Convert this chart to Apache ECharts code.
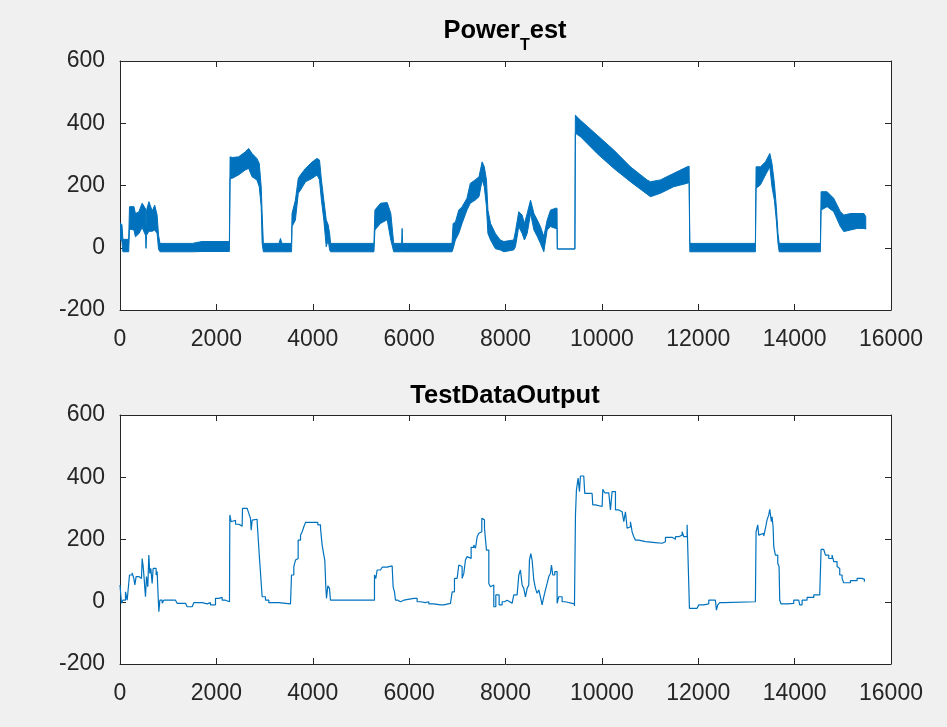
<!DOCTYPE html>
<html>
<head>
<meta charset="utf-8">
<script src="https://cdn.jsdelivr.net/npm/echarts@6/dist/echarts.min.js"></script>
<style>
html,body{margin:0;padding:0;background:#f0f0f0;}
#c{width:947px;height:727px;}
</style>
</head>
<body>
<div id="c"></div>
<script>
// ---- tick definitions ----
const xTicks = [0, 2000, 4000, 6000, 8000, 10000, 12000, 14000, 16000];
const yTicks = [-200, 0, 200, 400, 600];

// ---- titles ----
const titleTop = 'Power_Test';
const titleBottom = 'TestDataOutput';

// ---- Power_Test: noisy band, upper and lower envelope ----
const estX = [0, 40, 60, 180, 197, 290, 320, 390, 460, 530, 540, 550, 600, 670, 720, 770, 800, 830,
  1500, 1700, 2250, 2270, 2285, 2330, 2460, 2600, 2670, 2740, 2840, 2890, 2930, 2950, 2975,
  3300, 3330, 3360, 3560, 3570, 3640, 3700, 3745, 3850, 3990, 4090, 4140, 4180, 4230, 4280, 4320, 4350, 4370,
  5270, 5290, 5405, 5545, 5620, 5680, 5845, 5855, 5865, 6890, 6913, 6960, 7030, 7100, 7200, 7270, 7370, 7450,
  7515, 7560, 7605, 7635, 7690, 7790, 7890, 7965, 8170, 8206, 8275, 8345, 8393, 8450, 8520, 8590, 8660,
  8725, 8795, 8865, 8935, 9040, 9070, 9075, 9440, 9450, 9555, 9900, 10247, 10593, 10938, 11008, 11215,
  11490, 11770, 11810, 11825, 13186, 13200, 13290, 13395, 13485, 13530, 13580, 13620, 13655, 13680,
  14535, 14549, 14675, 14810, 14950, 15020, 15160, 15300, 15440, 15476];
const estHi = [78, 75, 27, 27, 132, 132, 110, 115, 143, 125, 60, 120, 148, 118, 137, 105, 40, 14,
  14, 20, 20, 20, 292, 290, 292, 308, 319, 303, 287, 271, 196, 110, 14,
  14, 30, 14, 14, 110, 153, 223, 234, 255, 276, 287, 282, 218, 153, 89, 74, 46, 14,
  14, 121, 143, 145, 110, 14, 14, 62, 14, 14, 78, 82, 121, 132, 159, 207, 218, 228,
  276, 260, 218, 121, 78, 46, 25, 20, 25, 52, 116, 105, 78, 110, 153, 110, 89,
  68, 36, 89, 121, 127, 127, -4, -4, 426, 410, 362, 314, 260, 218, 212, 218,
  239, 260, 262, 14, 14, 260, 260, 276, 303, 271, 207, 132, 46, 14,
  14, 180, 180, 159, 116, 105, 110, 110, 110, 100];
const estLo = [30, 20, -13, -13, 60, 57, 35, 45, 65, 40, -2, 40, 53, 53, 57, 46, -5, -13,
  -13, -12, -12, -12, 223, 223, 234, 250, 255, 228, 218, 196, 132, 14, -13,
  -13, -13, -13, -13, 68, 89, 175, 185, 212, 223, 234, 218, 153, 89, 3, 25, -7, -13,
  -13, 57, 78, 90, 25, -13, -13, -13, -13, -13, -3, 25, 46, 79, 121, 143, 153, 164,
  218, 196, 132, 46, 25, -3, -7, -13, -7, 3, 68, 46, 25, 46, 110, 57, 36,
  14, -13, 57, 68, 62, 62, -4, -4, 368, 357, 303, 255, 212, 172, 164, 175,
  196, 207, 210, -13, -13, 191, 202, 234, 260, 196, 153, 89, 14, -13,
  -13, 121, 132, 116, 68, 52, 57, 62, 62, 60];

// ---- TestDataOutput: line ----
const outX = [0, 10, 31, 59, 114, 149, 183, 197, 252, 287, 308, 335, 391, 446, 460, 481, 501, 515, 529, 550,
  577, 598, 619, 640, 667, 688, 723, 750, 771, 792, 806, 827, 875, 910, 1152, 1186, 1359, 1394, 1497, 1532,
  1705, 1740, 1809, 1878, 1933, 1982, 2051, 2120, 2189, 2272, 2279, 2307, 2342, 2397, 2466, 2535, 2542, 2639,
  2673, 2708, 2722, 2743, 2777, 2846, 2881, 2895, 2936, 2950, 3019, 3088, 3296, 3538, 3559, 3607, 3642, 3676,
  3697, 3746, 3780, 3815, 3850, 4057, 4105, 4161, 4195, 4230, 4250, 4271, 4285, 4313, 4347, 4368, 5163, 5198,
  5281, 5309, 5336, 5406, 5440, 5544, 5648, 5668, 5696, 5717, 5765, 5821, 5890, 6097, 6166, 6236, 6339, 6409,
  6512, 6651, 6720, 6858, 6893, 6941, 6996, 7031, 7066, 7100, 7135, 7169, 7204, 7239, 7287, 7342, 7377, 7412,
  7446, 7481, 7508, 7536, 7564, 7605, 7654, 7688, 7723, 7757, 7799, 7840, 7868, 7930, 7979, 8034, 8089, 8137,
  8172, 8241, 8276, 8310, 8345, 8379, 8414, 8449, 8483, 8497, 8525, 8552, 8587, 8622, 8656, 8691, 8725, 8760,
  8794, 8829, 8864, 8898, 8933, 8954, 8981, 9023, 9050, 9071, 9106, 9175, 9244, 9382, 9431, 9452, 9472, 9507,
  9535, 9555, 9624, 9645, 9797, 9811, 9867, 10005, 10019, 10060, 10143, 10178, 10212, 10247, 10282, 10351,
  10420, 10455, 10489, 10524, 10558, 10593, 10627, 10662, 10697, 10766, 10904, 11112, 11250, 11319, 11458,
  11527, 11596, 11665, 11700, 11769, 11803, 11817, 11976, 12011, 12114, 12218, 12356, 12377, 12405, 12446,
  12529, 13186, 13200, 13235, 13255, 13290, 13359, 13394, 13428, 13463, 13484, 13518, 13532, 13553, 13567,
  13601, 13650, 13677, 13691, 13719, 13843, 13982, 14085, 14106, 14155, 14258, 14397, 14521, 14549, 14604,
  14639, 14673, 14708, 14777, 14812, 14846, 14881, 14916, 14936, 14985, 15019, 15158, 15296, 15400, 15448];
const outY = [54, 59, -5, 5, 32, 5, 5, 86, 93, 75, 54, 81, 75, 81, 139, 113, 75, 43, 16, 81,
  48, 150, 91, 107, 59, 107, 107, 86, 97, 16, -32, 5, -5, 5, 5, -5, -10, -16, -16, -3,
  -3, -7, -3, -10, -10, 11, 14, 5, 0, -3, 279, 257, 262, 249, 243, 243, 300, 297,
  284, 268, 230, 262, 265, 257, 257, 139, 134, 16, 5, -3, -7, -7, 86, 113, 134, 139,
  198, 214, 225, 241, 255, 255, 247, 236, 182, 150, 134, 48, 11, 51, 43, 5, 5, 5,
  86, 75, 102, 107, 111, 115, 113, 48, 32, 5, 0, 5, 11, 11, 0, -3, 0, -7,
  -10, -10, -5, 0, 32, 75, 75, 118, 113, 75, 91, 134, 145, 139, 175, 182, 172, 209,
  220, 225, 268, 263, 236, 166, 59, 48, 54, -16, 22, 22, -10, 0, 5, 0, -5, -3,
  22, 22, 86, 102, 54, 43, 16, 43, 54, 134, 155, 134, 70, 43, 27, 38, 16, -10,
  16, 38, 59, 81, 91, 118, 86, 97, 97, -5, 16, 0, -5, -7, -14, 279, 359, 397,
  354, 404, 404, 348, 343, 311, 306, 306, 361, 350, 354, 295, 354, 354, 295, 289,
  284, 257, 289, 236, 241, 257, 225, 209, 198, 193, 190, 188, 193, 207, 201,
  209, 214, 225, 209, 247, 247, -21, -21, -10, -7, 5, 0, -27, -10, -3,
  0, 0, 225, 247, 214, 220, 211, 236, 263, 279, 297, 257, 273, 241, 177,
  150, 123, 113, 5, -7, -5, 5, 5, -10, 5, 14, 22, 22, 168, 166,
  150, 150, 139, 150, 129, 129, 113, 107, 86, 75, 61, 68, 75, 72, 64];

// ---- styles ----
const FONT = "'Liberation Sans', Arial, Helvetica, sans-serif";
const AX = '#262626';
const BLUE = '#0072BD';
const xMin = xTicks[0], xMax = xTicks[xTicks.length - 1], xInt = xTicks[1] - xTicks[0];
const yMin = yTicks[0], yMax = yTicks[yTicks.length - 1], yInt = yTicks[1] - yTicks[0];

function xAx(gridIndex, pos, labels) {
  return {
    type: 'value', gridIndex, position: pos, min: xMin, max: xMax, interval: xInt,
    axisLine: { show: true, onZero: false, lineStyle: { color: AX, width: 1 } },
    axisTick: { show: true, inside: true, length: 6, lineStyle: { color: AX } },
    axisLabel: { show: labels, color: AX, fontSize: 23, fontFamily: FONT, margin: 18,
      formatter: v => String(v) },
    splitLine: { show: false }
  };
}
function yAx(gridIndex, pos, labels) {
  return {
    type: 'value', gridIndex, position: pos, min: yMin, max: yMax, interval: yInt,
    axisLine: { show: true, onZero: false, lineStyle: { color: AX, width: 1 } },
    axisTick: { show: true, inside: true, length: 6, lineStyle: { color: AX } },
    axisLabel: { show: labels, color: AX, fontSize: 23, fontFamily: FONT, margin: 15,
      formatter: v => String(v) },
    splitLine: { show: false }
  };
}

const parts = titleTop.split('_');
const chart = echarts.init(document.getElementById('c'), null, { renderer: 'canvas' });
chart.setOption({
  animation: false,
  backgroundColor: '#f0f0f0',
  title: [
    {
      text: '{a|' + parts[0] + '}{b|' + parts[1].charAt(0) + '}{a|' + parts[1].slice(1) + '}',
      left: 505, top: 18, textAlign: 'center', padding: 0,
      textStyle: {
        rich: {
          a: { fontSize: 25.5, fontWeight: 'bold', fontFamily: FONT, color: '#000', padding: [0, 0, 10, 0], verticalAlign: 'bottom' },
          b: { fontSize: 16, fontWeight: 'bold', fontFamily: FONT, color: '#000', verticalAlign: 'bottom' }
        }
      }
    },
    {
      text: titleBottom, left: 505, top: 383, textAlign: 'center', padding: 0,
      textStyle: { fontSize: 25.5, fontWeight: 'bold', fontFamily: FONT, color: '#000' }
    }
  ],
  grid: [
    { left: 120, right: 56, top: 61, height: 249, show: true, backgroundColor: '#fff', borderWidth: 0 },
    { left: 120, right: 56, top: 415, height: 249, show: true, backgroundColor: '#fff', borderWidth: 0 }
  ],
  xAxis: [xAx(0, 'bottom', true), xAx(0, 'top', false), xAx(1, 'bottom', true), xAx(1, 'top', false)],
  yAxis: [yAx(0, 'left', true), yAx(0, 'right', false), yAx(1, 'left', true), yAx(1, 'right', false)],
  series: [
    {
      type: 'custom', xAxisIndex: 0, yAxisIndex: 0, clip: true,
      data: [[estX[0], estHi[0]]],
      renderItem: function (params, api) {
        if (params.dataIndex !== 0) return;
        const pts = [];
        for (let i = 0; i < estX.length; i++) pts.push(api.coord([estX[i], estHi[i]]));
        for (let i = estX.length - 1; i >= 0; i--) pts.push(api.coord([estX[i], estLo[i]]));
        return { type: 'polygon', shape: { points: pts }, style: { fill: BLUE, stroke: BLUE, lineWidth: 1 } };
      }
    },
    {
      type: 'line', xAxisIndex: 2, yAxisIndex: 2, showSymbol: false, symbol: 'none', step: 'end',
      data: outX.map((x, i) => [x, outY[i]]),
      lineStyle: { color: BLUE, width: 1.2 }
    }
  ]
});
</script>
</body>
</html>
